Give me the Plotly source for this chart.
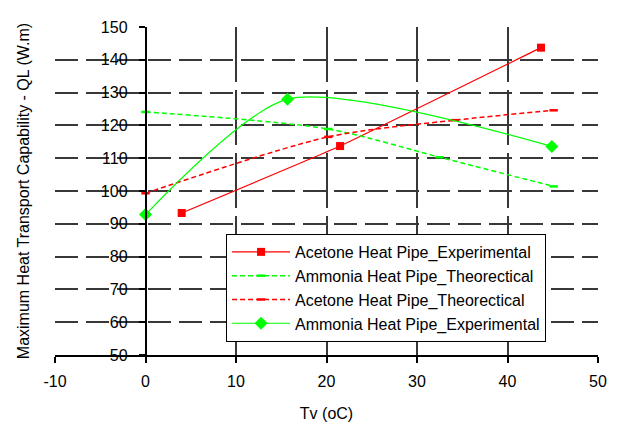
import plotly.graph_objects as go

# Data
acetone_exp_x = [4, 21.5, 43.7]
acetone_exp_y = [93.3, 113.7, 143.7]

ammonia_theo_x = [0, 20.2, 32.5, 45.1]
ammonia_theo_y = [124.1, 118.9, 110.3, 101.4]

acetone_theo_x = [0, 20.2, 34.2, 45.1]
acetone_theo_y = [99.3, 116.5, 121.6, 124.6]

ammonia_exp_x = [0, 15.7, 44.9]
ammonia_exp_y = [92.8, 128.0, 113.6]

x_ticks = [-10, 0, 10, 20, 30, 40, 50]
y_ticks = [50, 60, 70, 80, 90, 100, 110, 120, 130, 140, 150]

RED = "#ff0000"
GREEN = "#00ff00"
FONT = "Liberation Sans, Arial, sans-serif"

fig = go.Figure()

fig.add_trace(go.Scatter(
    x=acetone_exp_x, y=acetone_exp_y, mode="lines+markers",
    name="Acetone Heat Pipe_Experimental",
    line=dict(color=RED, width=1.2, shape="spline", smoothing=0.3),
    marker=dict(symbol="square", size=8, color=RED),
))
fig.add_trace(go.Scatter(
    x=ammonia_theo_x, y=ammonia_theo_y, mode="lines+markers",
    name="Ammonia Heat Pipe_Theorectical",
    line=dict(color=GREEN, width=1.5, dash="5px,3px", shape="spline", smoothing=0.8),
    marker=dict(symbol="line-ew", size=6, color=GREEN, line=dict(color=GREEN, width=2.5)),
))
fig.add_trace(go.Scatter(
    x=acetone_theo_x, y=acetone_theo_y, mode="lines+markers",
    name="Acetone Heat Pipe_Theorectical",
    line=dict(color=RED, width=1.5, dash="5px,3px", shape="spline", smoothing=0.8),
    marker=dict(symbol="line-ew", size=6, color=RED, line=dict(color=RED, width=2.5)),
))
fig.add_trace(go.Scatter(
    x=ammonia_exp_x, y=ammonia_exp_y, mode="lines+markers",
    name="Ammonia Heat Pipe_Experimental",
    line=dict(color=GREEN, width=1.2, shape="spline", smoothing=0.7),
    marker=dict(symbol="diamond", size=10, color=GREEN),
))

fig.update_layout(
    width=610, height=417,
    margin=dict(l=47, r=20, t=19, b=70),
    paper_bgcolor="white", plot_bgcolor="white",
    font=dict(family=FONT, size=16, color="black"),
    xaxis=dict(
        range=[-10, 50], tickvals=x_ticks, ticktext=[str(v) for v in x_ticks],
        showline=True, linecolor="black", linewidth=1.5,
        ticks="outside", ticklen=6, tickwidth=1.5, tickcolor="black",
        showgrid=True, gridcolor="#383838", gridwidth=1.6, griddash="55px,8px",
        zeroline=False, ticklabelstandoff=5, automargin=False,
        tickfont=dict(size=16),
        title=dict(text="Tv (oC)", font=dict(size=16), standoff=19),
    ),
    yaxis=dict(
        range=[50, 150], tickvals=y_ticks,
        showline=False, ticks="", showticklabels=False,
        showgrid=True, gridcolor="#383838", gridwidth=1.6, griddash="23px,8px",
        zeroline=False, automargin=False,
        title=dict(text="Maximum Heat Transport Capability - QL (W.m)",
                   font=dict(size=16), standoff=20),
    ),
    yaxis2=dict(
        range=[50, 150], tickvals=y_ticks, ticktext=[str(v) for v in y_ticks],
        overlaying="y", anchor="free", position=10 / 60,
        showline=True, linecolor="black", linewidth=1.5,
        ticks="outside", ticklen=6, tickwidth=1.5, tickcolor="black",
        showgrid=False, zeroline=False, ticklabelstandoff=8, automargin=False,
        tickfont=dict(size=16),
    ),
    legend=dict(
        x=0.315, y=0.369, xanchor="left", yanchor="top",
        bgcolor="white", bordercolor="black", borderwidth=1,
        font=dict(size=16), itemwidth=58, tracegroupgap=0,
    ),
    showlegend=True,
)

# invisible trace to bind the second y axis
fig.add_trace(go.Scatter(x=[None], y=[None], yaxis="y2", showlegend=False, hoverinfo="skip"))

fig.write_html("out.html")
